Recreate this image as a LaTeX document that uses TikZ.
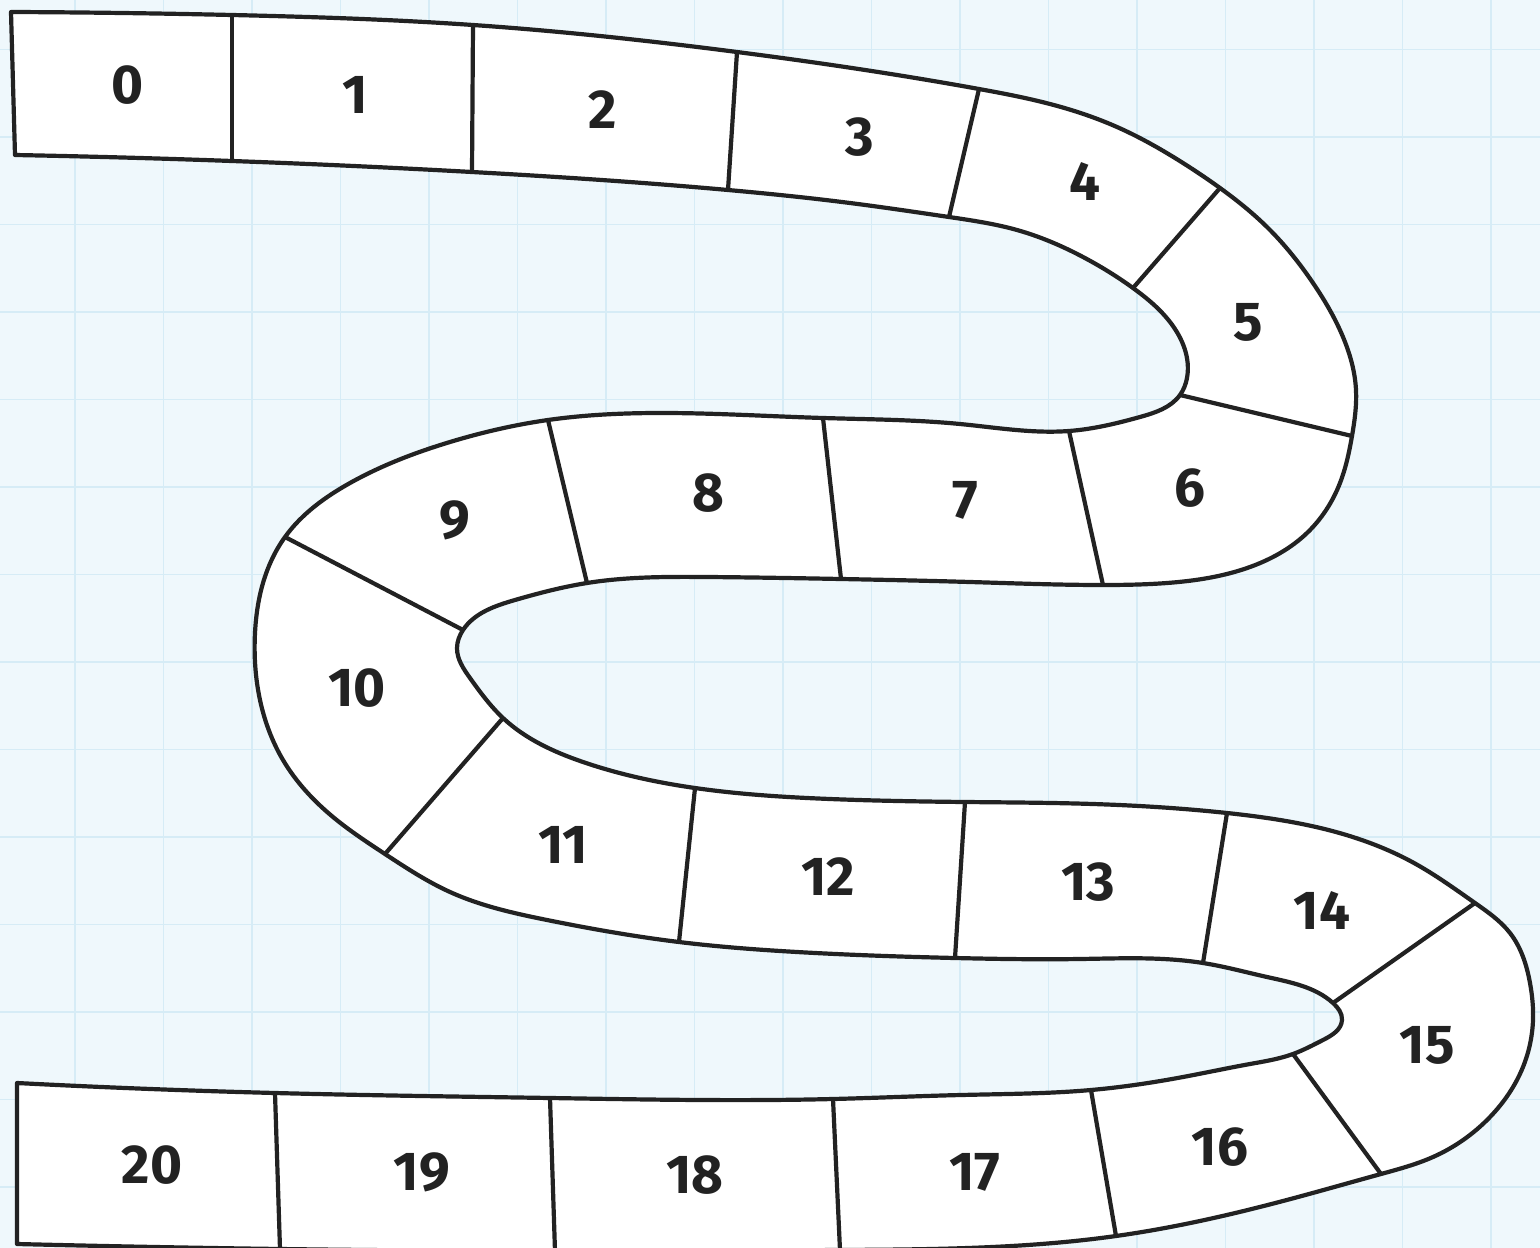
\documentclass[tikz,border=0pt]{standalone}
\usepackage{fontspec}
\setmainfont{Fira Sans}
\usetikzlibrary{hobby}
\definecolor{paperblue}{HTML}{EFF8FC}
\definecolor{gridblue}{HTML}{D6ECF6}
\definecolor{ink}{HTML}{222222}
\tikzset{
  board/.style={draw=ink, line width=1.05mm, line join=round},
  rasterline/.style={draw=gridblue, line width=0.4mm},
  cellnum/.style={font=\bfseries\fontsize{39}{41}\selectfont, text=ink}
}
\begin{document}
\begin{tikzpicture}[x=0.25mm, y=-0.25mm]
  % Papier mit Karoraster
  \useasboundingbox (0,0) rectangle (1540,1248);
  \clip (0,0) rectangle (1540,1248);
  \fill[paperblue] (0,0) rectangle (1540,1248);
  \foreach \i in {0,...,16} \draw[rasterline] (75+88.5*\i,0) -- (75+88.5*\i,1248);
  \foreach \j in {0,...,13} \draw[rasterline] (0,49.5+87.5*\j) -- (1540,49.5+87.5*\j);
  % Endpunkte der Trennlinien (A: erste Randkurve, B: zweite Randkurve)
  \foreach \k/\a/\b in {1/{232,15}/{232,161}, 2/{473,25}/{472,172}, 3/{737,52}/{728,190},
      4/{979,89}/{949,217}, 5/{1220,188}/{1133,288}, 6/{1352,436}/{1180,395},
      7/{1103,585}/{1069,431}, 8/{841,579}/{823,418}, 9/{587,583}/{548,420},
      10/{463,630}/{285,537}, 11/{503,718}/{385,854}, 12/{695,788}/{679,942},
      13/{965,802}/{955,958}, 14/{1227,813}/{1203,963}, 15/{1475,903}/{1333,1003},
      16/{1381,1174}/{1293,1054}, 17/{1116,1236}/{1091,1090}, 18/{840,1250}/{833,1099},
      19/{555,1251}/{550,1098}, 20/{280,1249}/{275,1093}} {
    \coordinate (A\k) at (\a);
    \coordinate (B\k) at (\b);
  }
  % Spielfeldband
  \filldraw[board, fill=white, use Hobby shortcut]
    (11,12) .. (A1) .. (A2) .. (A3) .. (A4) .. (1050,104) .. (1117,127) .. (1183,163)
      .. (A5) .. (1268,228) .. (1313,283) .. (1343,337) .. (1356,390) .. (A6) .. (1340,483)
      .. (1307,533) .. (1250,567) .. (1167,583) .. (A7) .. (970,582) .. (A8) .. (707,577)
      .. (A9) .. (515,600) .. (A10) .. (457,648) .. (470,678) .. (A11) .. (583,762)
      .. (A12) .. (830,799) .. (A13) .. (1093,804) .. (A14) .. (1343,834) .. (1414,863)
      .. (A15) .. (1510,933) .. (1530,983) .. (1533,1020) .. (1523,1067) .. (1490,1117)
      .. (1433,1157) .. (A16) .. (1283,1201) .. (A17) .. (A18) .. (A19) .. (A20)
      .. (17,1244)
    -- (17,1083) .. (B20) .. (B19) .. (B18) .. (961,1095) .. (B17) .. (1183,1077)
      .. (1250,1064) .. (B16) .. (1323,1040) .. (1342,1020) .. (B15) .. (1267,977) .. (B14)
      .. (1080,959) .. (B13) .. (797,952) .. (B12) .. (547,920) .. (450,892) .. (B11)
      .. (333,817) .. (283,760) .. (260,700) .. (255,633) .. (263,583) .. (B10) .. (350,483)
      .. (450,442) .. (B9) .. (666,413) .. (B8) .. (960,424) .. (B7) .. (1140,417)
      .. (B6) .. (1187,378) .. (1170,322) .. (B5) .. (1083,257) .. (1017,230) .. (B4)
      .. (850,203) .. (B3) .. (B2) .. (B1) .. (15,155)
    -- cycle;
  \foreach \k in {1,...,20} \draw[board] (A\k) -- (B\k);
  % Feldnummern
  \foreach \n/\p in {0/{128,85}, 1/{355,95}, 2/{603,110}, 3/{860,137}, 4/{1085,182},
      5/{1248,322}, 6/{1190,488}, 7/{965,500}, 8/{708,493}, 9/{455,520}, 10/{357,688},
      11/{563,845}, 12/{828,877}, 13/{1088,882}, 14/{1322,910}, 15/{1427,1045},
      16/{1220,1147}, 17/{975,1172}, 18/{695,1175}, 19/{422,1172}, 20/{152,1165}}
    \node[cellnum] (c\n) at (\p) {\n};
\end{tikzpicture}
\end{document}
